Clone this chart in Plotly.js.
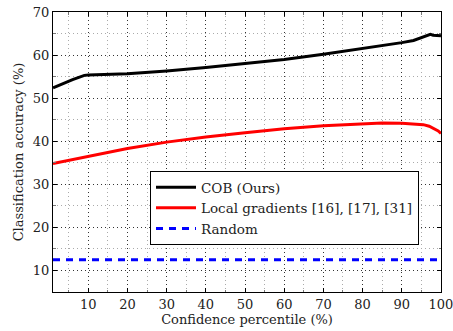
<!DOCTYPE html>
<html><head><meta charset="utf-8">
<script src="https://cdn.plot.ly/plotly-3.0.1.min.js"></script>
<style>body{margin:0;background:#fff}#c{width:453px;height:331px}</style>
</head><body><div id="c"></div>
<script>
const cobX = [1, 3, 6, 9, 10, 20, 30, 40, 50, 60, 70, 80, 85, 90, 93, 95, 96.5, 97.3, 98, 99, 100];
const cobY = [52.4, 53.2, 54.3, 55.3, 55.4, 55.7, 56.3, 57.1, 58.0, 59.0, 60.2, 61.5, 62.2, 62.9, 63.4, 64.0, 64.6, 64.8, 64.6, 64.5, 64.5];
const lgX = [1, 10, 20, 30, 40, 50, 60, 70, 80, 85, 90, 93, 95.5, 97, 98.5, 99.3, 100];
const lgY = [34.8, 36.5, 38.3, 39.8, 41.0, 42.0, 42.9, 43.6, 44.1, 44.25, 44.2, 44.1, 43.85, 43.5, 42.9, 42.4, 41.8];
const rndX = [1, 100];
const rndY = [12.5, 12.5];
const names = ["COB (Ours)", "Local gradients [16], [17], [31]", "Random"];
const xTicks = [10, 20, 30, 40, 50, 60, 70, 80, 90, 100];
const yTicks = [10, 20, 30, 40, 50, 60, 70];

const font = {family: "DejaVu Serif, Liberation Serif, serif", color: "#222", size: 13};
const data = [
  {x: cobX, y: cobY, name: names[0], mode: "lines", line: {color: "#000", width: 3}},
  {x: lgX, y: lgY, name: names[1], mode: "lines", line: {color: "#ff0000", width: 3}},
  {x: rndX, y: rndY, name: names[2], mode: "lines", line: {color: "#0000ff", width: 3, dash: "7px,6px"}}
];
const axisCommon = {
  showline: true, linecolor: "#000", linewidth: 1, mirror: "allticks",
  ticks: "inside", ticklen: 4, tickcolor: "#000",
  showgrid: true, gridcolor: "#333", griddash: "1px,3px", gridwidth: 1,
  zeroline: false, ticklabeloverflow: "allow",
  minor: {showgrid: true, gridcolor: "#aaa", griddash: "1px,3px", ticks: "inside", ticklen: 2.5, tickcolor: "#777"},
  tickfont: {family: font.family, size: 13, color: "#222"}
};
const layout = {
  width: 453, height: 331,
  margin: {l: 53, r: 12, t: 12, b: 39},
  paper_bgcolor: "#fff", plot_bgcolor: "#fff",
  font: font,
  showlegend: true,
  xaxis: Object.assign({}, axisCommon, {
    range: [1, 100.01], tickvals: xTicks, ticktext: xTicks.map(String),
    minor: Object.assign({}, axisCommon.minor, {dtick: 5, tick0: 0}),
    title: {text: "Confidence percentile (%)", font: {family: font.family, size: 13, color: "#222"}, standoff: 2}
  }),
  yaxis: Object.assign({}, axisCommon, {
    range: [5, 70.01], tickvals: yTicks, ticktext: yTicks.map(String),
    minor: Object.assign({}, axisCommon.minor, {dtick: 5, tick0: 0}),
    title: {text: "Classification accuracy (%)", font: {family: font.family, size: 13, color: "#222"}, standoff: 6}
  }),
  legend: {
    x: 0.25, y: 0.432, xanchor: "left", yanchor: "top",
    bordercolor: "#000", borderwidth: 1, bgcolor: "#fff",
    font: {family: font.family, size: 13.5, color: "#222"},
    tracegroupgap: 0, itemwidth: 40
  }
};
Plotly.newPlot("c", data, layout, {displayModeBar: false, staticPlot: true});
</script></body></html>
